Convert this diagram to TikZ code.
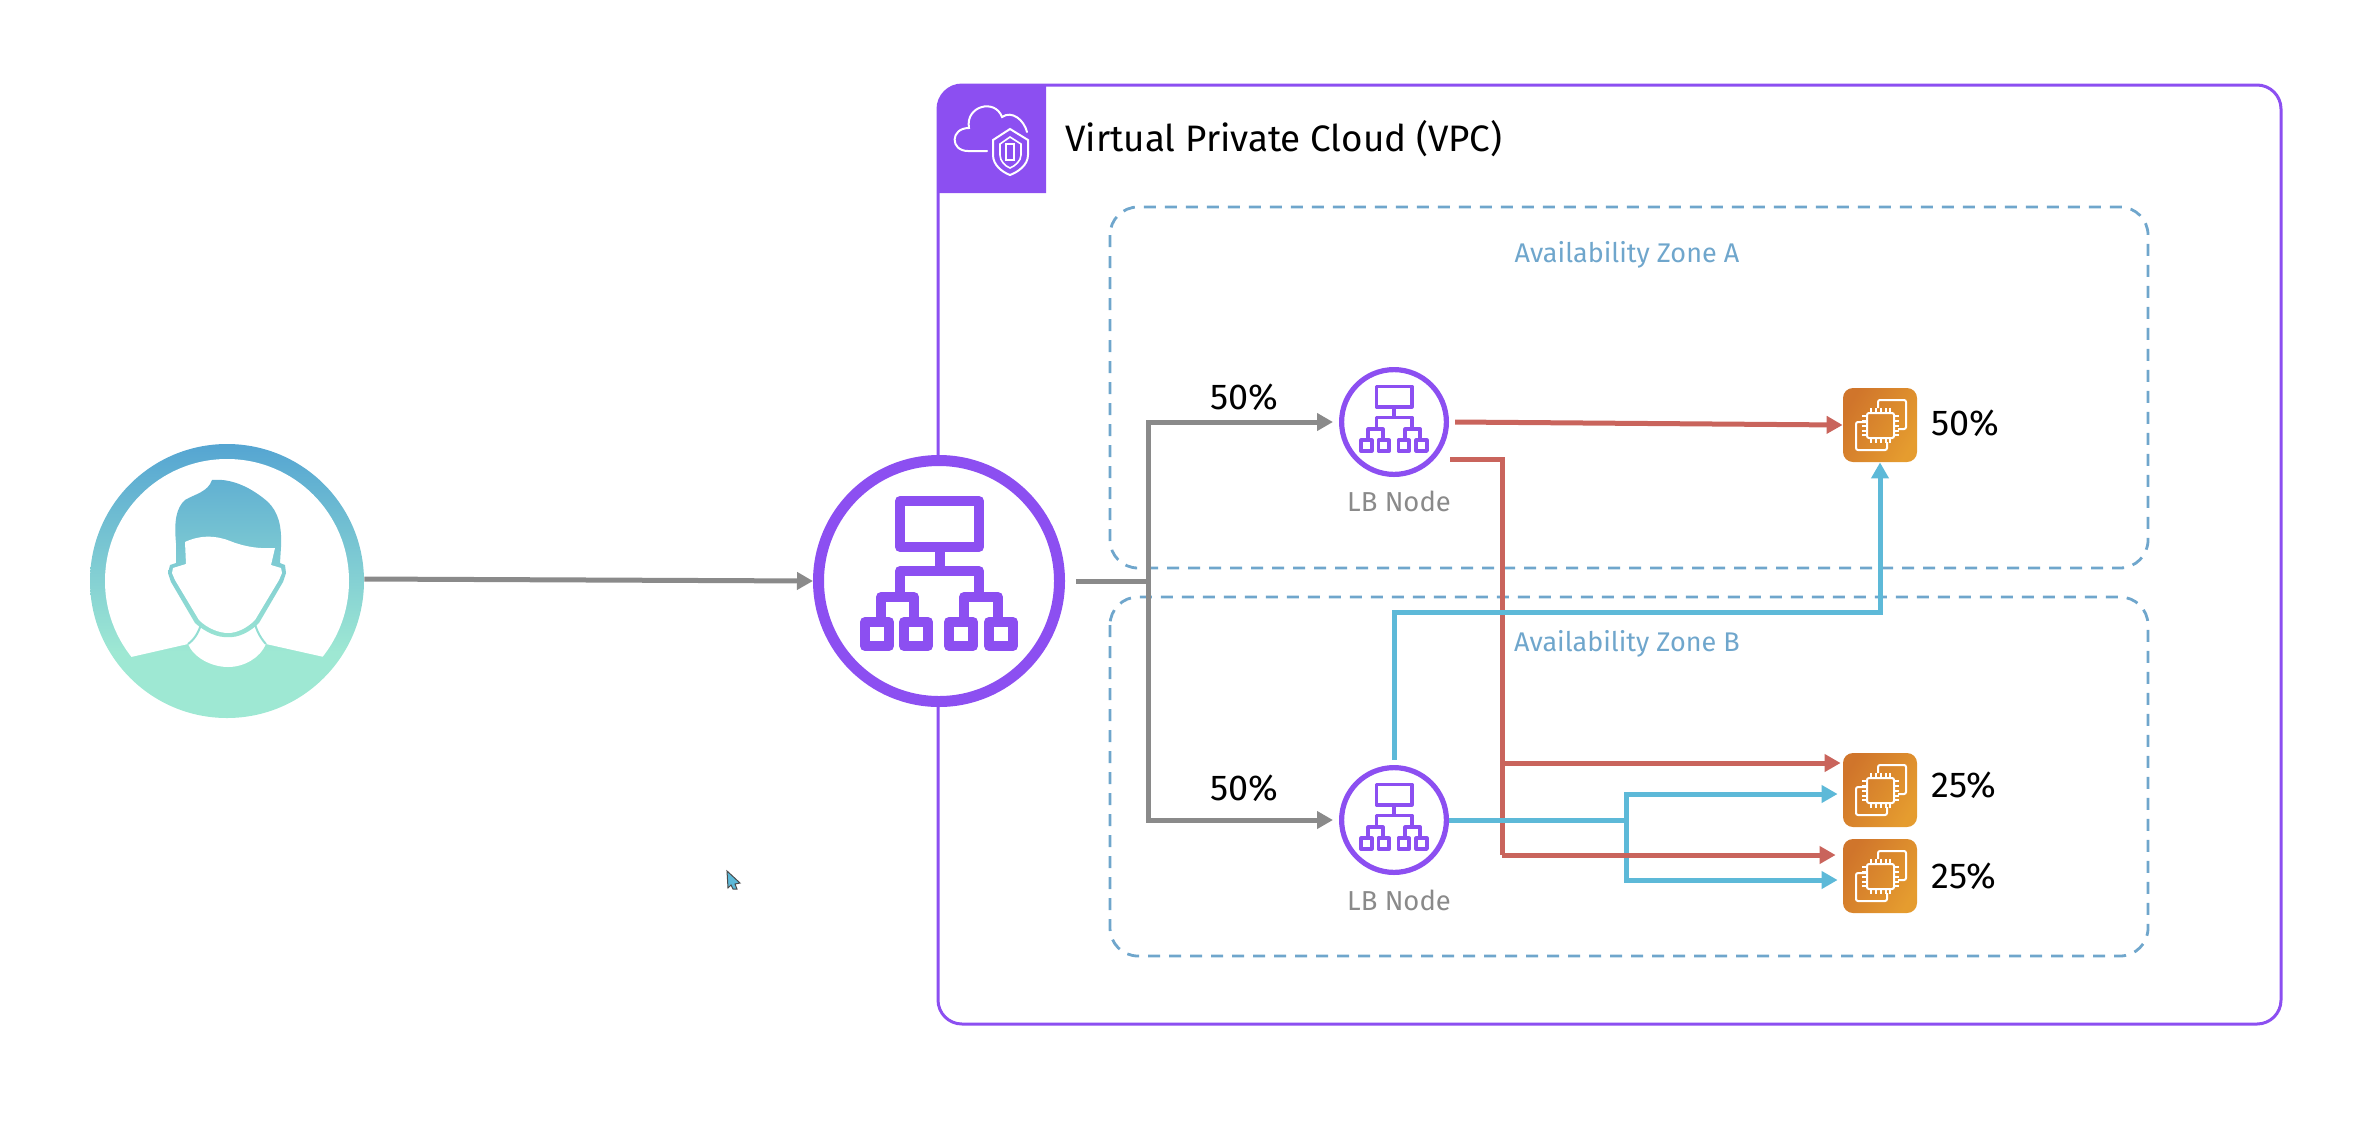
\documentclass[tikz,border=0pt]{standalone}
\usepackage{fontspec}
\setmainfont{Fira Sans}
\usetikzlibrary{arrows.meta}
\definecolor{vpcPurple}{HTML}{8C4FF1}
\definecolor{zoneBlue}{HTML}{6FA6CC}
\definecolor{lineGray}{HTML}{8A8A8A}
\definecolor{lineRed}{HTML}{C9645C}
\definecolor{lineBlue}{HTML}{5DB9D8}
\definecolor{userTop}{HTML}{55A5D2}
\definecolor{userLow}{HTML}{9EE8D3}
\definecolor{ec2Low}{HTML}{D0752B}
\definecolor{ec2High}{HTML}{E59C2F}
\pgfdeclareverticalshading{userFade}{100bp}{color(0bp)=(userLow); color(37bp)=(userLow); color(75bp)=(userTop); color(100bp)=(userTop)}
\newcommand{\lbNodeScale}[0]{0.445}
\tikzset{
  grayLine/.style={lineGray,line width=2.5pt},
  grayArrow/.style={grayLine,-{Triangle[length=8pt,width=8.5pt]}},
  redLine/.style={lineRed,line width=2.5pt},
  redArrow/.style={redLine,-{Triangle[length=8pt,width=8.5pt]}},
  blueLine/.style={lineBlue,line width=2.5pt},
  blueArrow/.style={blueLine,-{Triangle[length=8pt,width=8.5pt]}},
  zoneBox/.style={zoneBlue,line width=1.4pt,dash pattern=on 6pt off 4.5pt,rounded corners=14pt},
  zoneLabel/.style={text=zoneBlue,font=\fontsize{13.5}{15}\selectfont},
  lbLabel/.style={text=lineGray,font=\fontsize{13.7}{15}\selectfont},
  pctLabel/.style={text=black,font=\fontsize{18}{20}\selectfont},
  lbCircle/.style={circle,draw=vpcPurple,fill=white,inner sep=0pt},
  ec2Box/.style={rectangle,rounded corners=5pt,minimum size=37pt,inner sep=0pt,
    left color=ec2Low,right color=ec2High,shading angle=60},
  lbGlyph/.pic={
    \draw[vpcPurple,line join=round] (-39,-80) rectangle (40,-34);
    \draw[vpcPurple] (0.5,-34) -- (0.5,-10);
    \draw[vpcPurple,line join=round] (-39,16) -- (-39,-10) -- (40,-10) -- (40,16);
    \draw[vpcPurple,line join=round] (-58,41) -- (-58,16) -- (-25,16) -- (-25,41);
    \draw[vpcPurple,line join=round] (25,41) -- (25,16) -- (59,16) -- (59,41);
    \foreach \boxLeft/\boxRight in {-74/-50,-35/-11,10/34,50/74}
      \draw[vpcPurple,line join=round] (\boxLeft,41) rectangle (\boxRight,65);
  },
  ec2Glyph/.pic={
    \draw[white,line width=1pt,rounded corners=1pt] (-13,-12) rectangle (14,13);
    \draw[white,line width=1pt,rounded corners=1pt] (-2,-17) -- (-2,-25) -- (26,-25) -- (26,4) -- (18,4);
    \draw[white,line width=1pt,rounded corners=1pt] (-14,-3) -- (-24,-3) -- (-24,25) -- (7,25) -- (7,17);
    \foreach \pinPos in {-9,-4,1,6,10}{
      \draw[white,line width=.6pt] (\pinPos,-12) -- (\pinPos,-17);
      \draw[white,line width=.6pt] (\pinPos,13) -- (\pinPos,18);
      \draw[white,line width=.6pt] (-13,\pinPos) -- (-18,\pinPos);
      \draw[white,line width=.6pt] (14,\pinPos) -- (19,\pinPos);
    }
  }
}

\begin{document}
\begin{tikzpicture}[x=0.5pt,y=-0.5pt]
  \useasboundingbox (0,0) rectangle (2376,1120);

  \draw[vpcPurple,line width=1.5pt,rounded corners=12pt] (938,85) rectangle (2281,1024);
  \fill[vpcPurple] (938,193) {[rounded corners=12pt] -- (938,85)} -- (1046,85) -- (1046,193) -- cycle;
  \draw[white,line width=1pt,line cap=round] (987,151) -- (968,151) .. controls (950,151) and (950,128) .. (969,128)
    .. controls (965,106) and (995,98) .. (1002,117) .. controls (1012,110) and (1024,120) .. (1027,132);
  \draw[white,fill=vpcPurple,line width=1pt] (1010,129) -- (1028,140) -- (1028,155) .. controls (1028,165) and (1018,172) .. (1010,175)
    .. controls (1002,172) and (993,165) .. (993,155) -- (993,140) -- cycle;
  \draw[white,line width=.8pt] (1010,137) -- (1021,144) -- (1021,155) .. controls (1021,161) and (1015,166) .. (1010,168)
    .. controls (1005,166) and (1000,161) .. (1000,155) -- (1000,144) -- cycle;
  \draw[white,line width=.8pt] (1006,144) rectangle (1014,160);
  \node[anchor=west,inner sep=0pt,font=\fontsize{18.4}{20}\selectfont] (vpcLabel) at (1065,139) {Virtual Private Cloud (VPC)};

  \draw[zoneBox] (1110,207) rectangle (2148,568);
  \draw[zoneBox] (1110,597) rectangle (2148,956);
  \node[zoneLabel] (zoneA) at (1627,255) {Availability Zone A};
  \node[zoneLabel] (zoneB) at (1627,644) {Availability Zone B};

  \node[circle,inner sep=0pt,minimum size=137pt,shade,shading=userFade] (user) at (227,581) {};
  \begin{scope}
    \clip (227,581) circle[radius=122];
    \fill[white] (80,430) -- (80,680) -- (131,657) -- (188,644)
      .. controls (194,658) and (212,667) .. (228,667) .. controls (244,667) and (260,658) .. (266,644)
      -- (324,657) -- (380,680) -- (380,430) -- cycle;
  \end{scope}
  \begin{scope}
    \clip (176,543) .. controls (174,522) and (176,508) .. (185,500) .. controls (195,494) and (208,492) .. (212,480)
      .. controls (232,478) and (252,488) .. (268,502) .. controls (278,512) and (282,525) .. (281,547) -- (280,563) -- (285,565) -- (286,573)
      -- (283,582) -- (259,623) .. controls (250,632) and (238,638) .. (228,637)
      .. controls (218,638) and (205,632) .. (195,623) -- (171,582) -- (168,573) -- (170,565) -- (176,563) -- cycle;
    \shade[shading=userFade] (90,444) rectangle (364,718);
  \end{scope}
  \fill[white] (185,542) .. controls (200,535) and (215,535) .. (230,541) .. controls (245,547) and (260,549) .. (275,548)
    -- (271,565) -- (281,568) -- (282,573) -- (279,580) -- (255,620) .. controls (246,629) and (236,633) .. (228,633)
    .. controls (220,633) and (208,629) .. (199,620) -- (175,580) -- (172,573) -- (173,568) -- (186,564) -- cycle;
  \draw[userLow!85!userTop,line width=1pt] (201,624) .. controls (199,632) and (194,640) .. (188,644);
  \draw[userLow!85!userTop,line width=1pt] (255,624) .. controls (257,632) and (262,640) .. (266,644);

  \coordinate (lbOut) at (1076,581);
  \coordinate (lbSplit) at (1148,581);
  \coordinate (lbARed) at (1450,459);
  \coordinate (redTrunk) at (1502,459);
  \coordinate (redUpper) at (1502,763);
  \coordinate (redLower) at (1502,855);
  \coordinate (blueTurn) at (1880,612);
  \coordinate (blueSplit) at (1626,820);

  \node[lbCircle,line width=5.5pt,minimum size=120.5pt] (lb) at (939,581) {};
  \node[lbCircle,line width=2.6pt,minimum size=52.4pt] (lbA) at (1394,422) {};
  \node[lbCircle,line width=2.6pt,minimum size=52.4pt] (lbB) at (1394,820) {};
  \node[ec2Box] (ec2A) at (1880,425) {};
  \node[ec2Box] (ec2B) at (1880,790) {};
  \node[ec2Box] (ec2C) at (1880,876) {};

  \draw[grayArrow] ([yshift=1pt]user.east) -- (lb.west);
  \draw[grayLine] (lbOut) -- (lbSplit);
  \draw[grayArrow] (lbSplit) |- ([xshift=-3pt]lbA.west);
  \draw[grayArrow] (lbSplit) |- ([xshift=-3pt]lbB.west);

  \draw[redArrow] ([xshift=3pt]lbA.east) -- (ec2A.west);
  \draw[redLine] (lbARed) -- (redTrunk) -- (redLower);
  \draw[blueArrow] ([yshift=2.5pt]lbB.north) |- (blueTurn) -- (ec2A.south);
  \draw[blueLine] (lbB.east) -- (blueSplit);
  \draw[blueArrow] (blueSplit) |- ([xshift=-2.5pt,yshift=-2pt]ec2B.west);
  \draw[blueArrow] (blueSplit) |- ([xshift=-2.5pt,yshift=-2pt]ec2C.west);
  \draw[redArrow] (redUpper) -- ([xshift=-1pt,yshift=13.5pt]ec2B.west);
  \draw[redArrow] (redLower) -- ([xshift=-3.5pt,yshift=10.5pt]ec2C.west);

  \pic[line width=5pt] at (lb) {lbGlyph};
  \pic[scale=\lbNodeScale,line width=1.8pt] at (lbA) {lbGlyph};
  \pic[scale=\lbNodeScale,line width=1.8pt] at (lbB) {lbGlyph};
  \pic at (ec2A) {ec2Glyph};
  \pic at (ec2B) {ec2Glyph};
  \pic at (ec2C) {ec2Glyph};

  \node[lbLabel] (lbALabel) at (1399,501) {LB Node};
  \node[lbLabel] (lbBLabel) at (1399,900) {LB Node};
  \node[pctLabel] (pctA) at (1244,397) {50\%};
  \node[pctLabel] (pctB) at (1244,788) {50\%};
  \node[pctLabel] (pctEc2A) at (1965,423) {50\%};
  \node[pctLabel] (pctEc2B) at (1964,785) {25\%};
  \node[pctLabel] (pctEc2C) at (1964,876) {25\%};

  \filldraw[fill=lineBlue,draw=black!70,line width=.5pt] (727,871) -- (740,883) -- (735,884) -- (737,889) -- (733,889) -- (731,885) -- (728,888) -- cycle;
\end{tikzpicture}
\end{document}
